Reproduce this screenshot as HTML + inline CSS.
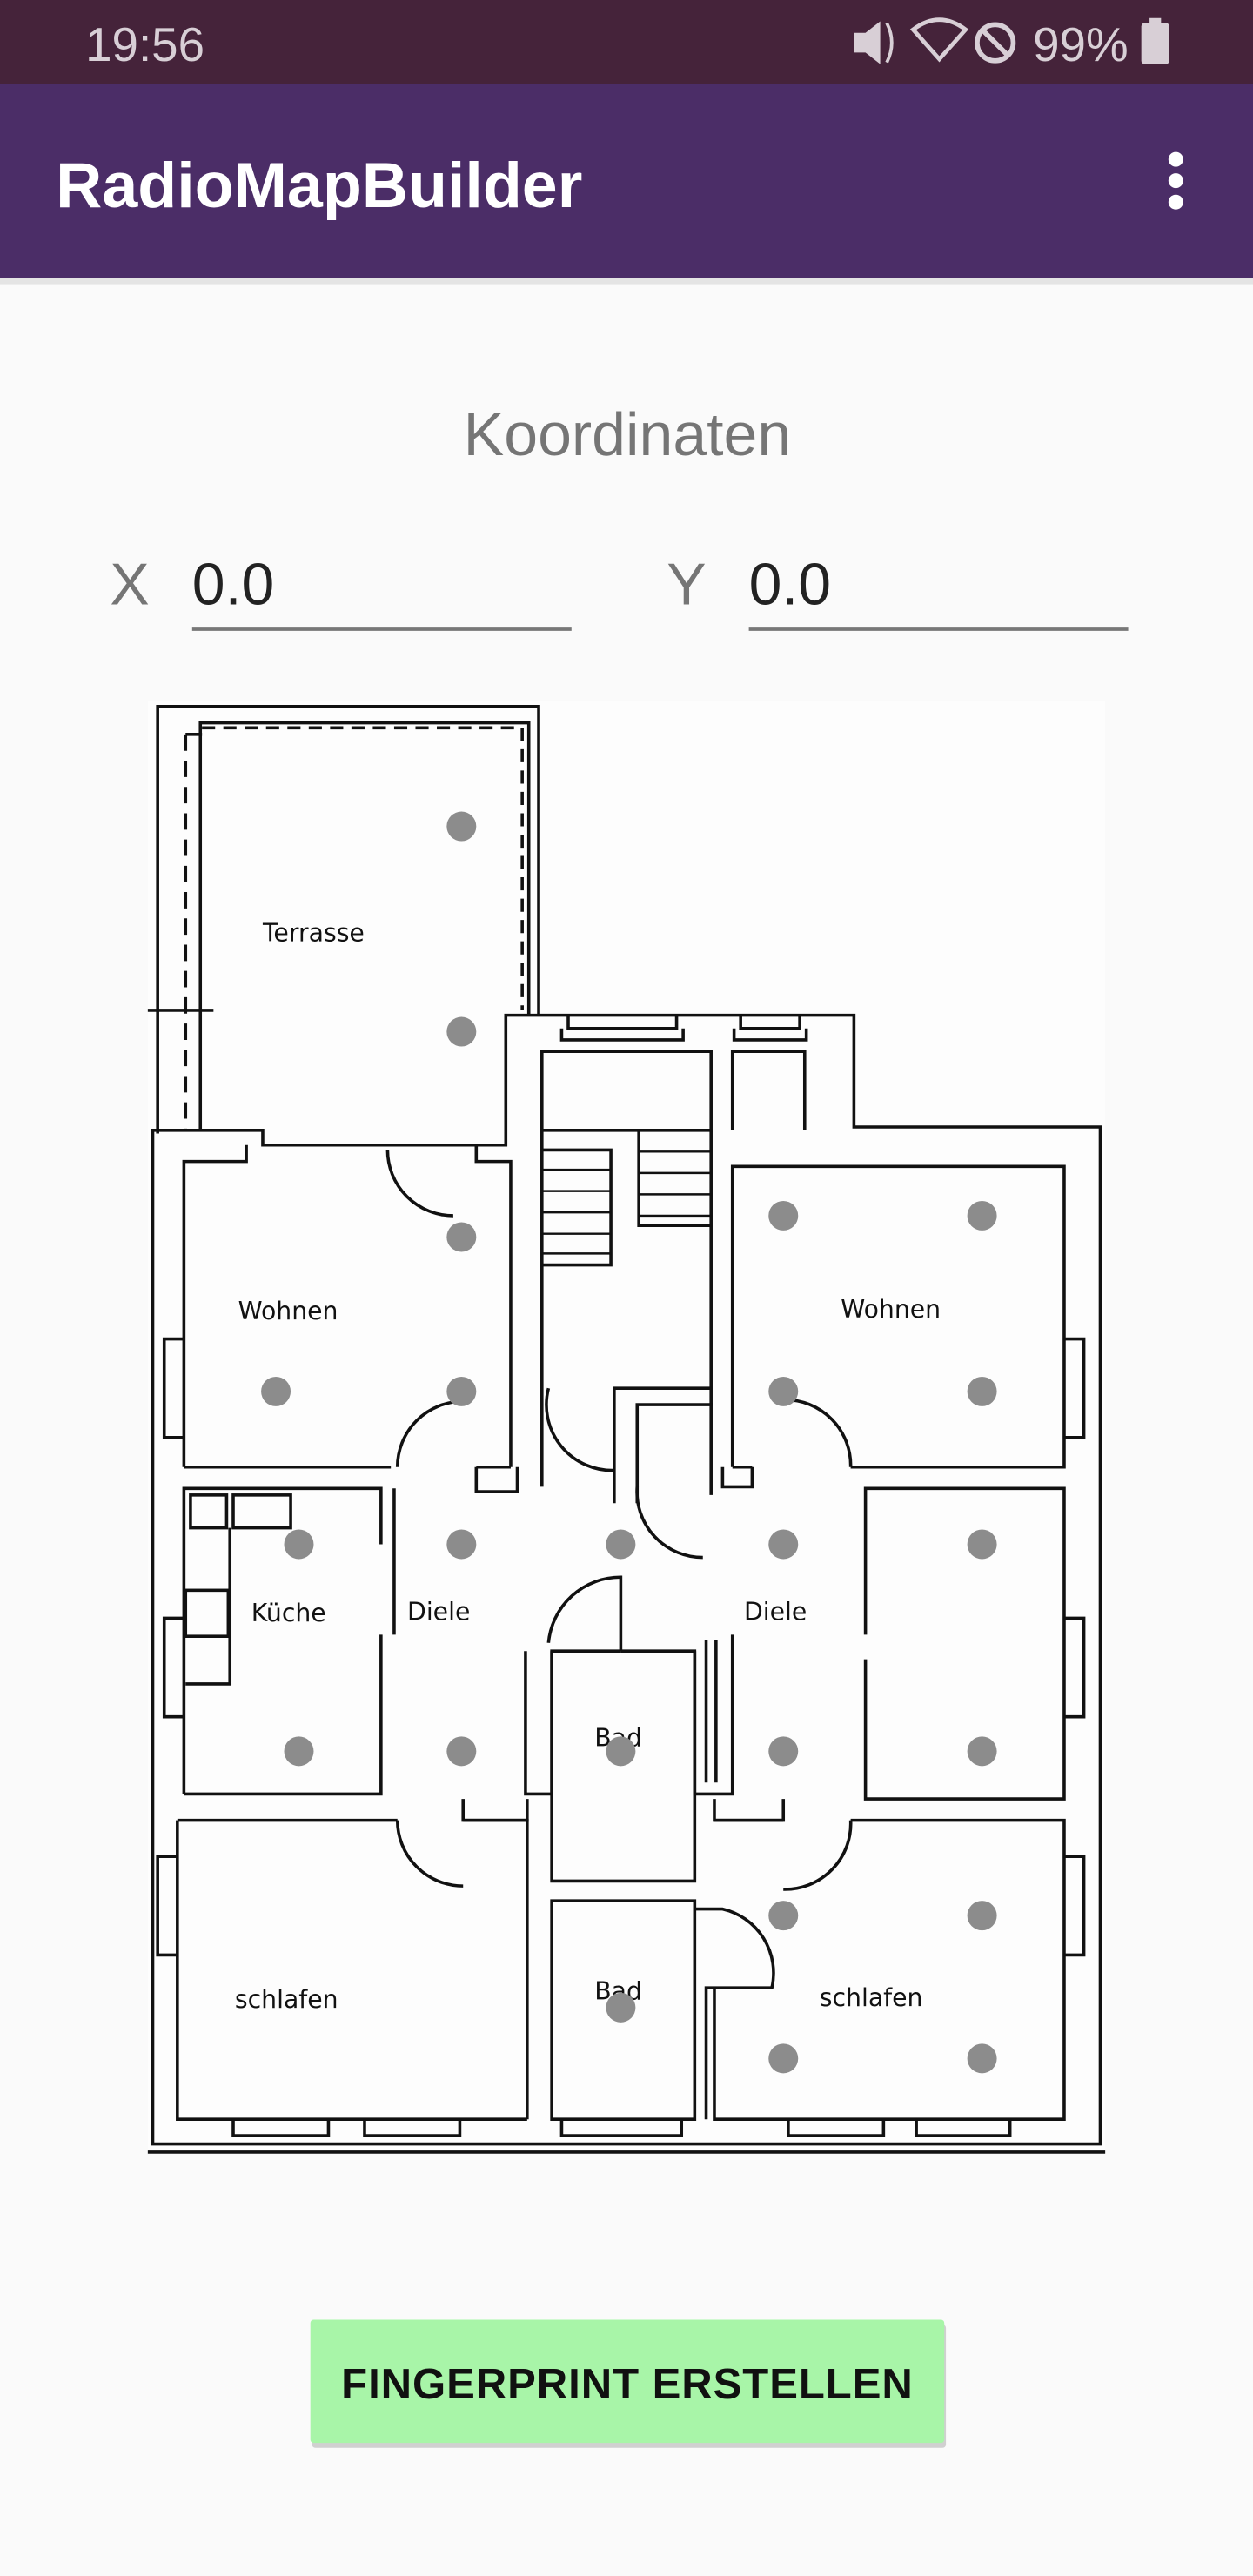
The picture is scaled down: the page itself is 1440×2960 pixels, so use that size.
<!DOCTYPE html>
<html><head><meta charset="utf-8"><style>
html,body{margin:0;padding:0;background:#fafafa;}
svg{display:block;}
</style></head><body>
<svg width="1440" height="2960" viewBox="0 0 763 1568" preserveAspectRatio="none" xmlns="http://www.w3.org/2000/svg" font-family="Liberation Sans, sans-serif">
<rect width="763" height="1568" fill="#fafafa"/>
<!-- status bar -->
<rect x="0" y="0" width="763" height="51" fill="#45233a"/>
<text x="52" y="37" font-size="29" fill="#d8cfd6">19:56</text>
<text x="629" y="37" font-size="29" fill="#d8cfd6">99%</text>
<rect x="695" y="14" width="17" height="25" rx="2" fill="#d8cfd6"/>
<rect x="700" y="11" width="7" height="4" fill="#d8cfd6"/>
<circle cx="606" cy="26" r="11" fill="none" stroke="#d8cfd6" stroke-width="3"/>
<line x1="598" y1="18" x2="614" y2="34" stroke="#d8cfd6" stroke-width="3"/>
<path d="M556 18 Q572 6 588 18 L572 36 Z" fill="none" stroke="#d8cfd6" stroke-width="2.5"/>
<path d="M520 20 L527 20 L536 13 L536 39 L527 32 L520 32 Z" fill="#d8cfd6"/>
<path d="M540 14 Q546 26 540 38" fill="none" stroke="#d8cfd6" stroke-width="2"/>
<!-- app bar -->
<rect x="0" y="51" width="763" height="118" fill="#4b2d67"/>
<rect x="0" y="169" width="763" height="4" fill="#e4e4e4"/>
<text x="34" y="126" font-size="39" font-weight="bold" fill="#ffffff">RadioMapBuilder</text>
<circle cx="716" cy="97" r="4.5" fill="#fff"/><circle cx="716" cy="110" r="4.5" fill="#fff"/><circle cx="716" cy="123" r="4.5" fill="#fff"/>
<!-- Koordinaten -->
<text x="382" y="277" font-size="37" fill="#757575" text-anchor="middle">Koordinaten</text>
<text x="67" y="368" font-size="36" fill="#757575">X</text>
<text x="117" y="368" font-size="36" fill="#222">0.0</text>
<line x1="117" y1="383" x2="348" y2="383" stroke="#777" stroke-width="2"/>
<text x="406" y="368" font-size="36" fill="#757575">Y</text>
<text x="456" y="368" font-size="36" fill="#222">0.0</text>
<line x1="456" y1="383" x2="687" y2="383" stroke="#777" stroke-width="2"/>
<!-- floor plan -->
<rect x="90" y="427" width="583" height="884" fill="#fdfdfd"/>
<g fill="none" stroke="#111" stroke-width="1.9">
 <path d="M96 690 V430 H328 V618"/>
 <path d="M122 688 V440 H322 V618"/>
 <path d="M123 443 H318 V615" stroke-dasharray="8 5"/>
 <path d="M113 447 H124 M113 447 V688" stroke-dasharray="10 6"/>
 <line x1="90" y1="615" x2="130" y2="615"/>
 <path d="M93 688 H160 V697 H308 V618 H520 V686 H670 V1305 H93 Z"/>
 <path d="M90 1310 H673"/>
 <path d="M346 618 V626 H412 V618 M342 626 V633 H416 V626"/>
 <path d="M451 618 V626 H487 V618 M447 626 V633 H491 V626"/>
 <path d="M112 893 V707 H150 V697 M172 697 H300 M290 697 V707 H311 V893"/>
 <path d="M112 893 H238 M290 893 H311"/>
 <path d="M330 688 V640 H433 V688"/>
 <path d="M446 688 V640 H490 V688"/>
 <path d="M330 688 H433 M330 688 V905 M433 688 V855"/>
 <path d="M330 700 H372 V770 H330 M389 688 V746 H433"/>
 <g stroke-width="1.3"><line x1="330" y1="712" x2="372" y2="712"/><line x1="330" y1="725" x2="372" y2="725"/><line x1="330" y1="738" x2="372" y2="738"/><line x1="330" y1="751" x2="372" y2="751"/><line x1="330" y1="763" x2="372" y2="763"/>
 <line x1="389" y1="701" x2="433" y2="701"/><line x1="389" y1="714" x2="433" y2="714"/><line x1="389" y1="727" x2="433" y2="727"/><line x1="389" y1="740" x2="433" y2="740"/></g>
 <path d="M374 915 V845 H433 M388 915 V855 H433 V910"/>
 <path d="M334 845 A40 40 0 0 0 374 895"/>
 <path d="M446 893 V710 H648 V893 H518 M446 893 H458"/>
 <path d="M648 815 H660 V875 H648"/>
 <path d="M112 815 H100 V875 H112"/>
 <path d="M236 700 A40 40 0 0 0 276 740"/>
 <path d="M242 893 A40 40 0 0 1 282 853"/>
 <path d="M478 852 A40 40 0 0 1 518 893"/>
 <path d="M388 905 A40 40 0 0 0 428 948"/>
 <path d="M112 1092 V906 H232 V940 M240 906 V995 M232 995 V1092 H112"/>
 <rect x="116" y="910" width="22" height="20"/>
 <rect x="142" y="910" width="35" height="20"/>
 <rect x="113" y="968" width="26" height="28"/>
 <path d="M113 1025 H140 V930"/>
 <path d="M290 893 V908 H315 V893"/>
 <path d="M320 1005 V1092 H336 V1005 H378"/>
 <path d="M378 1005 V960 A44 44 0 0 0 334 1000"/>
 <path d="M378 1005 H423 V1145 H336 V1005"/>
 <path d="M430 998 V1085 M436 998 V1085"/>
 <path d="M423 1005 V1092 H446 V995"/>
 <path d="M458 893 V905 H440 V893"/>
 <path d="M527 995 V906 H648 V1095 H527 V1010"/>
 <path d="M648 985 H660 V1045 H648"/>
 <path d="M112 985 H100 V1045 H112"/>
 <path d="M108 1108 H242 M282 1108 H321 V1290"/>
 <path d="M108 1108 V1290 H321"/>
 <path d="M242 1108 A40 40 0 0 0 282 1148"/>
 <path d="M282 1095 V1108 H321 V1095"/>
 <path d="M336 1157 H423 V1290 H336 Z"/>
 <path d="M423 1162 H440 A40 40 0 0 1 470 1210 H430 V1290"/>
 <path d="M435 1108 H477 M518 1108 H648 V1290 H435 V1210"/>
 <path d="M477 1150 A40 40 0 0 0 518 1108"/>
 <path d="M435 1095 V1108 H477 V1095"/>
 <path d="M648 1130 H660 V1190 H648 M108 1130 H96 V1190 H108"/>
 <path d="M142 1290 V1300 H200 V1290 M222 1290 V1300 H280 V1290 M342 1290 V1300 H415 V1290 M480 1290 V1300 H538 V1290 M558 1290 V1300 H615 V1290"/>
</g>
<g font-family="DejaVu Sans, sans-serif" font-size="15" fill="#111">
 <text x="160" y="573">Terrasse</text>
 <text x="145" y="803">Wohnen</text>
 <text x="512" y="802">Wohnen</text>
 <text x="153" y="987">Küche</text>
 <text x="248" y="986">Diele</text>
 <text x="453" y="986">Diele</text>
 <text x="143" y="1222">schlafen</text>
 <text x="499" y="1221">schlafen</text>
 <text x="362" y="1063">Bad</text>
 <text x="362" y="1217">Bad</text>
</g>
<g fill="#8c8c8c">
 <circle cx="281" cy="503" r="9"/><circle cx="281" cy="628" r="9"/><circle cx="281" cy="753" r="9"/>
 <circle cx="477" cy="740" r="9"/><circle cx="598" cy="740" r="9"/>
 <circle cx="168" cy="847" r="9"/><circle cx="281" cy="847" r="9"/><circle cx="477" cy="847" r="9"/><circle cx="598" cy="847" r="9"/>
 <circle cx="182" cy="940" r="9"/><circle cx="281" cy="940" r="9"/><circle cx="378" cy="940" r="9"/><circle cx="477" cy="940" r="9"/><circle cx="598" cy="940" r="9"/>
 <circle cx="182" cy="1066" r="9"/><circle cx="281" cy="1066" r="9"/><circle cx="378" cy="1066" r="9"/><circle cx="477" cy="1066" r="9"/><circle cx="598" cy="1066" r="9"/>
 <circle cx="477" cy="1166" r="9"/><circle cx="598" cy="1166" r="9"/>
 <circle cx="378" cy="1222" r="9"/>
 <circle cx="477" cy="1253" r="9"/><circle cx="598" cy="1253" r="9"/>
</g>
<rect x="190" y="1415" width="386" height="75" rx="2" fill="#d0d0d0"/>
<rect x="189" y="1412" width="386" height="75" rx="2" fill="#a8f5a8"/>
<text x="382" y="1460" font-size="26" font-weight="bold" fill="#111" text-anchor="middle" letter-spacing="0.5">FINGERPRINT ERSTELLEN</text>
</svg>
</body></html>
